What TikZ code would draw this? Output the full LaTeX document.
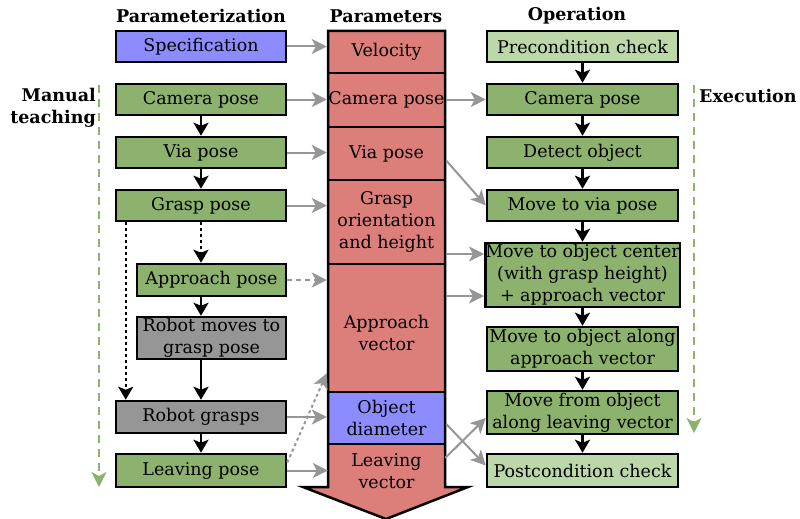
\documentclass[tikz,border=0pt]{standalone}
\usepackage{fontspec}
\setmainfont{DejaVu Serif}
\usetikzlibrary{arrows.meta,calc}
\definecolor{cblue}{RGB}{140,140,255}
\definecolor{cgreen}{RGB}{140,178,110}
\definecolor{clgreen}{RGB}{188,216,168}
\definecolor{cgray}{RGB}{150,150,150}
\definecolor{cred}{RGB}{220,126,122}
\definecolor{cline}{RGB}{150,150,150}
\definecolor{cdash}{RGB}{140,178,110}
\begin{document}
\begin{tikzpicture}[x=1pt,y=-1pt,
  every node/.style={font=\fontsize{17.5}{22}\selectfont, align=center, inner sep=0pt},
  box/.style={draw=black, line width=2.5pt, minimum width=170pt, minimum height=31pt},
  opbox/.style={box, minimum width=191pt},
  cell/.style={draw=black, line width=2.5pt, minimum width=117pt},
  head/.style={font=\fontsize{17.5}{22}\selectfont\bfseries},
  btip/.style={-{Stealth[length=13pt,width=15pt,inset=3pt]}},
  gtip/.style={-{Stealth[length=15pt,width=15pt,inset=4pt]}},
  blk/.style={btip, line width=2.5pt, black},
  gry/.style={gtip, line width=2pt, cline},
  dots/.style={dash pattern=on 3pt off 3pt},
  grdash/.style={dash pattern=on 5pt off 4pt},
  gdash/.style={gtip, line width=2pt, cdash, dash pattern=on 8pt off 6pt}
]
\useasboundingbox (0,0) rectangle (800,519);
% headings
\node[head] (h1) at (201,16) {Parameterization};
\node[head] (h2) at (386,16) {Parameters};
\node[head] (h3) at (577,16) {Operation};
\node[head, anchor=east, align=right] (man) at (96,107.5) {Manual\\teaching};
\node[head, anchor=west] (exe) at (699,96) {Execution};
% column 1
\node[box, fill=cblue] (spec) at (201,46.5) {Specification};
\node[box, fill=cgreen] (cam1) at (201,99.5) {Camera pose};
\node[box, fill=cgreen] (via1) at (201,152.5) {Via pose};
\node[box, fill=cgreen] (grasp1) at (201,205.5) {Grasp pose};
\node[box, fill=cgreen, minimum width=149pt, minimum height=32pt] (appr1) at (211.5,280) {Approach pose};
\node[box, fill=cgray, minimum width=149pt, minimum height=42pt] (robm) at (211.5,338) {Robot moves to\\grasp pose};
\node[box, fill=cgray, minimum height=32pt] (robg) at (201,417) {Robot grasps};
\node[box, fill=cgreen, minimum height=33pt] (leave1) at (201,470.5) {Leaving pose};
% column 2 big arrow
\fill[cred] (328,31) -- (445,31) -- (445,487) -- (468,487) -- (386,519) -- (303,487) -- (328,487) -- cycle;
\node[cell, minimum height=42pt] (vel) at (386.5,52) {Velocity};
\node[cell, minimum height=54pt] (camp) at (386.5,100) {Camera pose};
\node[cell, minimum height=53pt] (viap) at (386.5,153.5) {Via pose};
\node[cell, minimum height=84pt] (grp) at (386.5,222) {Grasp\\orientation\\and height};
\node[cell, minimum height=128pt] (appv) at (386.5,328) {};
\node (appvt) at (386.5,333) {Approach\\vector};
\node[cell, fill=cblue, minimum height=52pt] (objd) at (386.5,418) {Object\\diameter};
\node[minimum width=117pt, minimum height=43pt] (leav) at (386.5,471) {Leaving\\vector};
\draw[line width=2.5pt, line join=miter] (328,31) -- (445,31) -- (445,487) -- (468,487) -- (386,519) -- (303,487) -- (328,487) -- cycle;
% column 3
\node[opbox, fill=clgreen] (pre) at (582.5,46.5) {Precondition check};
\node[opbox, fill=cgreen] (cam3) at (582.5,99.5) {Camera pose};
\node[opbox, fill=cgreen] (det) at (582.5,152.5) {Detect object};
\node[opbox, fill=cgreen] (via3) at (582.5,205.5) {Move to via pose};
\node[opbox, fill=cgreen, minimum height=64pt] (mvc) at (582.5,275) {Move to object center\\(with grasp height)\\+ approach vector};
\node[opbox, fill=cgreen, minimum height=44pt] (mva) at (582.5,349) {Move to object along\\approach vector};
\node[opbox, fill=cgreen, minimum height=43pt] (mvf) at (582.5,412.5) {Move from object\\along leaving vector};
\node[opbox, fill=clgreen, minimum height=33pt] (post) at (582.5,470.5) {Postcondition check};
% black arrows col1
\draw[blk] (cam1) -- (via1);
\draw[blk] (via1) -- (grasp1);
\draw[blk, dots] (grasp1.south) -- (grasp1.south |- appr1.north);
\draw[blk, dots] ([xshift=11pt]grasp1.south west) -- ([xshift=11pt]robg.north west);
\draw[blk] (appr1.south -| grasp1.south) -- (robm.north -| grasp1.south);
\draw[blk] (robm.south -| grasp1.south) -- (robg.north);
\draw[blk] (robg) -- (leave1);
% black arrows col3
\draw[blk] (pre) -- (cam3);
\draw[blk] (cam3) -- (det);
\draw[blk] (det) -- (via3);
\draw[blk] (via3) -- (mvc);
\draw[blk] (mvc) -- (mva);
\draw[blk] (mva) -- (mvf);
\draw[blk] (mvf) -- (post);
% gray arrows col1 -> col2
\draw[gry] (spec.east) -- (spec.east -| vel.west);
\draw[gry] (cam1.east) -- (cam1.east -| camp.west);
\draw[gry] (via1.east) -- (via1.east -| viap.west);
\draw[gry] (grasp1.east) -- (grasp1.east -| grp.west);
\draw[gry, grdash] (appr1.east) -- (appr1.east -| appv.west);
\draw[gry] (robg.east) -- (robg.east -| objd.west);
\draw[gry] (leave1.east) -- (leave1.east -| leav.west);
\draw[gry, dots] ([yshift=8pt]leave1.east) -- ([yshift=20pt]appv.south west);
% gray arrows col2 -> col3
\draw[gry] (camp.east |- cam3.west) -- (cam3.west);
\draw[gry] ([yshift=-7pt]viap.east) -- (via3.west);
\draw[gry] ([yshift=21pt]mvc.west -| grp.east) -- ([yshift=21pt]mvc.west);
\draw[gry] ([yshift=-21pt]mvc.west -| appv.east) -- ([yshift=-21pt]mvc.west);
\draw[gry] ([yshift=-6pt]objd.east) -- ([yshift=5pt]post.west);
\draw[gry] ([yshift=13pt]leav.east) -- ([yshift=-5.5pt]mvf.west);
% green dashed
\coordinate (mt0) at (99,85);
\coordinate (mt1) at (99,487);
\coordinate (ex0) at (694,85);
\coordinate (ex1) at (694,433);
\draw[gdash] (mt0) -- (mt1);
\draw[gdash] (ex0) -- (ex1);
\end{tikzpicture}
\end{document}
